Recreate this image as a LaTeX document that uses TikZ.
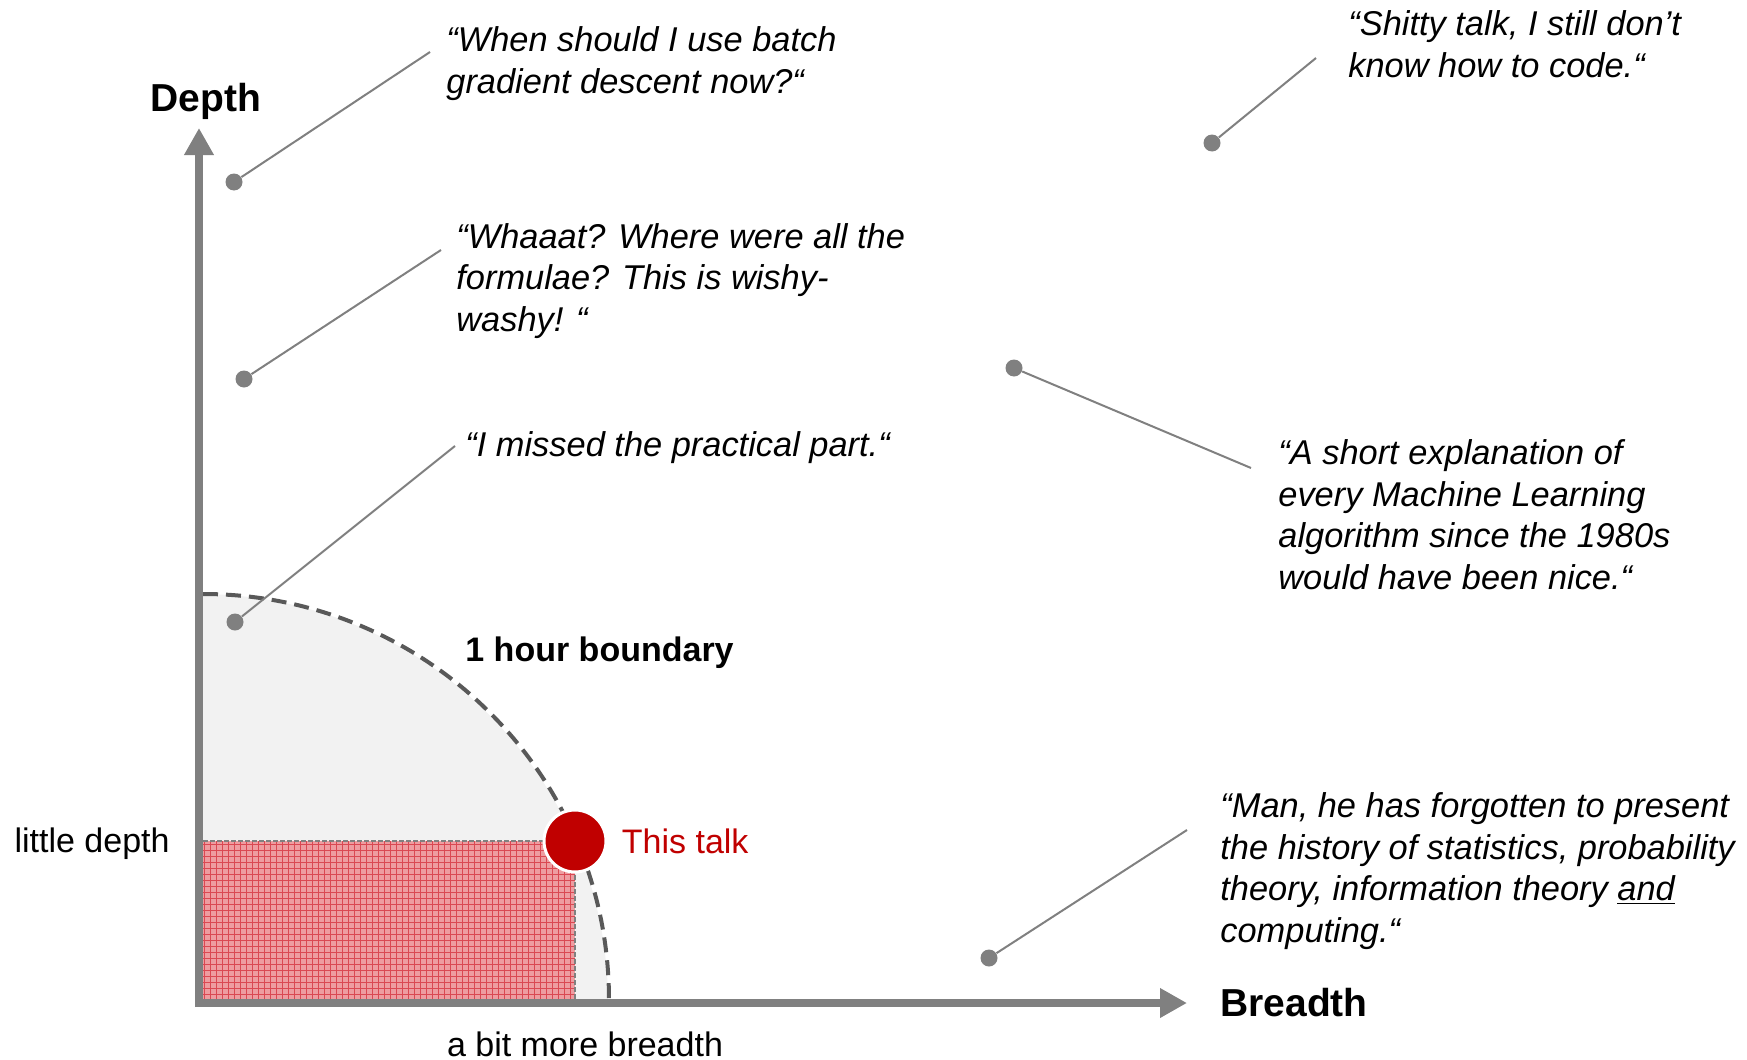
\documentclass[tikz,border=0pt]{standalone}
\usepackage{fontspec}
\setmainfont{Liberation Sans}
\usetikzlibrary{positioning, arrows.meta, patterns}

\definecolor{axisgray}{RGB}{128,128,128}
\definecolor{boundgray}{RGB}{89,89,89}
\definecolor{areagray}{RGB}{242,242,242}
\definecolor{talkred}{RGB}{192,0,0}
\definecolor{hatchpink}{RGB}{238,156,160}
\definecolor{hatchred}{RGB}{218,72,82}

\begin{document}
\begin{tikzpicture}[x=0.5pt, y=-0.5pt, >={Triangle[length=13.5pt, width=14pt]},
    quote/.style={font=\fontsize{17.2}{20.75}\selectfont\itshape, align=left, anchor=west, inner sep=0pt},
    plainlabel/.style={font=\fontsize{17}{20.75}\selectfont, inner sep=0pt},
    axislabel/.style={font=\fontsize{19.5}{23}\selectfont\bfseries, inner sep=0pt},
    pindot/.style={circle, fill=axisgray, inner sep=0pt, minimum size=8.5pt},
    callout/.style={axisgray, line width=1pt}]
    \useasboundingbox (0,0) rectangle (1747,1060);

    % 1 hour area
    \fill[areagray] (199,1003) -- (199,594) arc[start angle=-90, end angle=0, radius=409] -- cycle;

    % This talk area
    \fill[hatchpink] (203,841) rectangle (575,999);
    \fill[pattern=grid, pattern color=hatchred] (203,841) rectangle (575,999);
    \draw[axisgray, line width=1pt, dash pattern=on 2.5pt off 1pt] (203,841) -- (575,841) -- (575,999);

    % Boundary
    \draw[boundgray, line width=2pt, dash pattern=on 7.5pt off 4pt] (203,594) arc[start angle=-90, end angle=0, radius=406];
    \node[font=\fontsize{17}{20}\selectfont\bfseries, inner sep=0pt, anchor=west] (hour) at (465,653) {1 hour boundary};

    % Axes
    \coordinate (ybase) at (199,1007);
    \coordinate (xbase) at (195,1003);
    \coordinate (ytip) at (199,128);
    \coordinate (xtip) at (1187,1003);
    \draw[->, axisgray, line width=4pt] (ybase) -- (ytip);
    \draw[->, axisgray, line width=4pt] (xbase) -- (xtip);
    \node[axislabel] (depth) at (206,101) {Depth};
    \node[axislabel, right=16.5pt of xtip] (breadth) {Breadth};
    \node[plainlabel, anchor=east] (little) at (170,844) {little depth};
    \node[plainlabel] (bit) at (585,1044) {a bit more breadth};

    % This talk
    \node[circle, fill=talkred, draw=white, line width=1.5pt, minimum size=31pt, inner sep=0pt] (talk) at (575,841) {};
    \node[plainlabel, text=talkred, right=7pt of talk] (talklabel) {This talk};

    % Quotes
    \node[quote] (qa) at (446,63.5) {“When should I use batch\\gradient descent now?“};
    \node[quote] (qb) at (456,281) {“Whaaat? Where were all the\\formulae? This is wishy-\\washy! “};
    \node[quote] (qc) at (465,448) {“I missed the practical part.“};
    \node[quote] (qd) at (1348,44) {“Shitty talk, I still don’t\\know how to code.“};
    \node[quote] (qe) at (1278,514.5) {“A short explanation of\\every Machine Learning\\algorithm since the 1980s\\would have been nice.“};
    \node[quote] (qf) at (1220,871) {“Man, he has forgotten to present\\the history of statistics, probability\\theory, information theory \underline{and}\\computing.“};

    % Callouts
    \node[pindot] (da) at (234,182) {};
    \node[pindot] (db) at (244,379) {};
    \node[pindot] (dc) at (235,622) {};
    \node[pindot] (dd) at (1212,143) {};
    \node[pindot] (de) at (1014,368) {};
    \node[pindot] (df) at (989,958) {};
    \coordinate (ea) at (430,52);
    \coordinate (eb) at (441,250);
    \coordinate (ec) at (455,446);
    \coordinate (ed) at (1316,58);
    \coordinate (ee) at (1251,468);
    \coordinate (ef) at (1187,830);
    \draw[callout] (da) -- (ea);
    \draw[callout] (db) -- (eb);
    \draw[callout] (dc) -- (ec);
    \draw[callout] (dd) -- (ed);
    \draw[callout] (de) -- (ee);
    \draw[callout] (df) -- (ef);
\end{tikzpicture}
\end{document}
